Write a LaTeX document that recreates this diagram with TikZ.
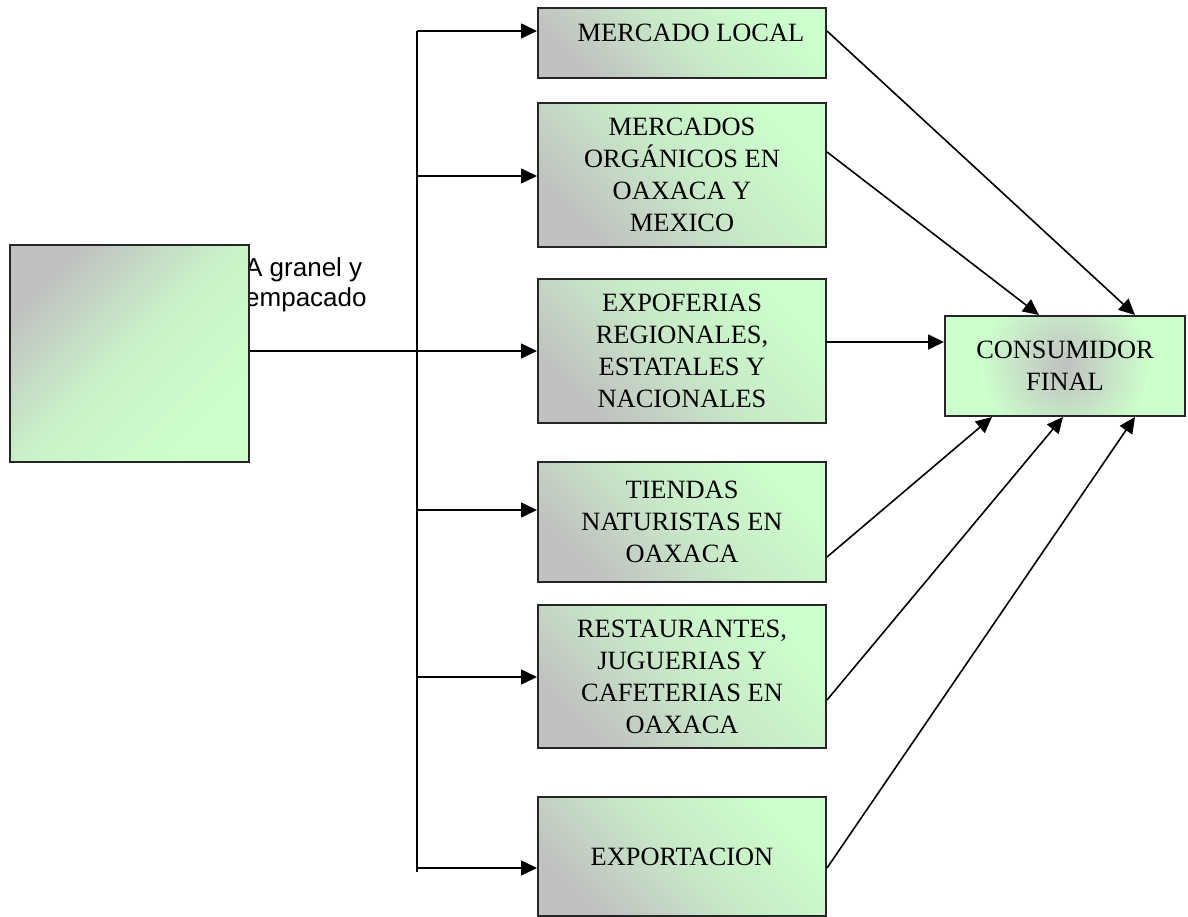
\documentclass[tikz,border=0pt]{standalone}
\usepackage{fontspec}
\setmainfont{Liberation Serif}
\newfontfamily\arialfont{Liberation Sans}
\usepackage{tikz}
\usepackage{xcolor}
\usetikzlibrary{
    arrows.meta,
    calc,
    positioning
}
\definecolor{verde}{HTML}{CCFFCC}
\definecolor{gris}{HTML}{C0C0C0}

\begin{document}
\begin{tikzpicture}[x=1pt, y=-1pt,
    caja/.style={draw=black!85, line width=2pt, rectangle, align=center, inner sep=0pt,
        font=\fontsize{26.4}{32}\selectfont,
        top color=verde, bottom color=gris, middle color=verde!65!gris, shading angle=-45},
    flecha/.style={line width=1.6pt, -{Triangle[length=16pt, width=15pt]}}]
                                \useasboundingbox (0, 0) rectangle (1188, 917);
                                \node[anchor=north west, inner sep=0pt, align=left,
                                    font=\arialfont\fontsize{26}{30}\selectfont] (granel) at (245, 257) {A granel y\\empacado};
                                \node[caja, minimum width=239pt, minimum height=217pt,
                                    top color=gris, bottom color=verde, middle color=verde!80!gris, shading angle=45] (fuente) at (129.5, 353.5) {};
                                \node[caja, minimum width=288pt, minimum height=70pt, text depth=20pt] (local) at (682, 43) {\hspace*{18pt}MERCADO LOCAL};
                                \node[caja, minimum width=288pt, minimum height=144pt] (organicos) at (682, 175) {MERCADOS\\ORGÁNICOS EN\\OAXACA Y\\MEXICO};
                                \node[caja, minimum width=288pt, minimum height=144pt] (expoferias) at (682, 351) {EXPOFERIAS\\REGIONALES,\\ESTATALES Y\\NACIONALES};
                                \node[caja, minimum width=288pt, minimum height=120pt] (tiendas) at (682, 522) {TIENDAS\\NATURISTAS EN\\OAXACA};
                                \node[caja, minimum width=288pt, minimum height=143pt] (restaurantes) at (682, 676.5) {RESTAURANTES,\\JUGUERIAS Y\\CAFETERIAS EN\\OAXACA};
                                \node[caja, minimum width=288pt, minimum height=119pt] (exportacion) at (682, 856.5) {EXPORTACION};
                                \node[caja, minimum width=240pt, minimum height=100pt,
                                    inner color=gris, outer color=verde] (consumidor) at (1065, 366) {CONSUMIDOR\\FINAL};
                                \coordinate (arriba) at (417, 31);
                                \coordinate (abajo) at (417, 872);
                                \draw[line width=1.6pt] (arriba) -- (abajo);
                                \foreach \y/\destino in {31/local, 176/organicos, 510/tiendas, 677/restaurantes, 868/exportacion} {
                                    \coordinate (r\destino) at (417, \y);
                                    \draw[flecha] (r\destino) -- (r\destino -| \destino.west);
                                }
                                \draw[flecha] (fuente.east |- expoferias.west) -- (expoferias.west);
                                \draw[flecha] ([yshift=12pt]local.east) -- ([xshift=70pt]consumidor.north);
                                \draw[flecha] ([yshift=23pt]organicos.east) -- ([xshift=-26pt]consumidor.north);
                                \draw[flecha] ([yshift=9pt]expoferias.east) -- ([yshift=24pt]consumidor.west);
                                \draw[flecha] ([yshift=-35pt]tiendas.east) -- ([xshift=-73pt]consumidor.south);
                                \draw[flecha] ([yshift=-23.5pt]restaurantes.east) -- ([xshift=-2pt]consumidor.south);
                                \draw[flecha] ([yshift=-11.5pt]exportacion.east) -- ([xshift=70pt]consumidor.south);
                            \end{tikzpicture}
\end{document}
